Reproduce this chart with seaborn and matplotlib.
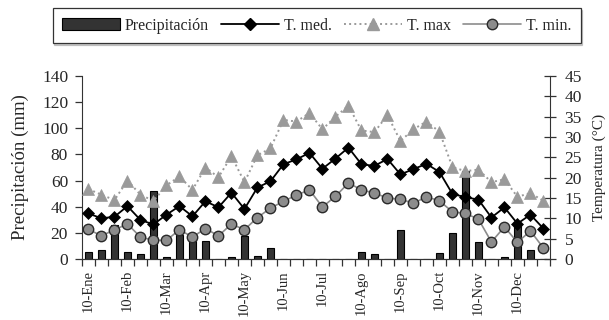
import numpy as np
import pandas as pd
import matplotlib
matplotlib.use("Agg")
import matplotlib.pyplot as plt
from matplotlib.lines import Line2D
from matplotlib.patches import Patch
import seaborn as sns

# Dekadal (10-day) climate series for one year
months = ["Ene", "Feb", "Mar", "Apr", "May", "Jun",
          "Jul", "Ago", "Sep", "Oct", "Nov", "Dec"]
dekads = [f"{d}-{m}" for m in months for d in (10, 20, 30)]
tick_labels = [f"10-{m}" for m in months]

precip = [5, 7, 26, 5, 4, 52, 1.5, 18.5, 14, 14, 0, 1.5,
          17.5, 2.5, 8.5, 0, 0, 0, 0, 0, 0, 5.5, 3.5, 0,
          22, 0, 0, 4.5, 20, 67, 13, 0, 1.5, 27.5, 7, 0]

t_med = [11.2, 10.0, 10.4, 13.0, 9.6, 8.5, 10.9, 13.0, 10.5, 14.2, 12.7, 16.3,
         12.3, 17.6, 19.1, 23.3, 24.5, 26.1, 22.2, 24.7, 27.4, 23.3, 22.9, 24.6,
         20.8, 22.1, 23.4, 21.4, 16.0, 15.2, 14.6, 10.2, 12.7, 8.7, 10.9, 7.5]

t_max = [17.2, 15.8, 14.5, 19.3, 15.8, 14.3, 18.1, 20.3, 17.0, 22.5, 20.1, 25.3,
         18.9, 25.5, 27.2, 34.2, 33.8, 35.9, 31.9, 35.0, 37.7, 31.6, 31.2, 35.4,
         29.0, 31.9, 33.8, 31.3, 22.6, 21.6, 22.0, 18.9, 19.6, 15.3, 16.2, 14.3]

t_min = [7.3, 5.7, 7.2, 8.6, 5.4, 4.6, 4.6, 7.2, 5.4, 7.5, 5.7, 8.6,
         7.2, 10.2, 12.5, 14.2, 15.7, 17.0, 12.8, 15.4, 18.7, 17.0, 16.2, 15.0,
         14.7, 13.7, 15.3, 14.3, 11.6, 11.2, 9.8, 4.2, 7.9, 4.1, 6.9, 2.7]

df = pd.DataFrame({"dekad": dekads, "precip": precip,
                   "t_med": t_med, "t_max": t_max, "t_min": t_min})

sns.set_style("ticks")
plt.rcParams["font.family"] = ["Liberation Serif", "DejaVu Serif"]
plt.rcParams["axes.edgecolor"] = "#333333"

fig = plt.figure(figsize=(6.09, 3.20), dpi=100)
ax = fig.add_axes([0.1346, 0.1906, 0.903 - 0.1346, 0.7625 - 0.1906])
ax2 = ax.twinx()

bar_color = "#333333"
sns.barplot(data=df, x="dekad", y="precip", order=dekads, ax=ax,
            color=bar_color, saturation=1, width=0.5,
            edgecolor="black", linewidth=0.8, errorbar=None)

# Temperature series on the secondary axis
sns.pointplot(data=df, x="dekad", y="t_min", order=dekads, ax=ax2,
              color="#8c8c8c", markers="o", linestyles="-", errorbar=None,
              markersize=7.5, linewidth=1.2,
              markeredgecolor="#2a2a2a", markeredgewidth=1.0)
sns.pointplot(data=df, x="dekad", y="t_max", order=dekads, ax=ax2,
              color="#9a9a9a", markers="^", linestyles=":", errorbar=None,
              markersize=8, linewidth=1.4,
              markeredgecolor="#9a9a9a", markeredgewidth=0.5)
sns.pointplot(data=df, x="dekad", y="t_med", order=dekads, ax=ax2,
              color="black", markers="D", linestyles="-", errorbar=None,
              markersize=6, linewidth=1.3,
              markeredgecolor="black", markeredgewidth=0.5)

# Axes limits and ticks
ax.set_xlim(-0.5, len(dekads) - 0.5)
ax.set_ylim(0, 140)
ax.set_yticks(np.arange(0, 141, 20))
ax2.set_ylim(0, 45)
ax2.set_yticks(np.arange(0, 46, 5))

ax.set_xticks(np.arange(0, len(dekads), 3))
ax.set_xticklabels(tick_labels, rotation=90, fontsize=10.5)
ax.set_xticks(np.arange(-0.5, len(dekads), 1), minor=True)
ax.tick_params(axis="x", which="major", length=0, pad=8)
ax.tick_params(axis="x", which="minor", length=5, width=0.9,
               direction="out", color="#333333")
ax.tick_params(axis="y", which="major", length=5, width=0.9,
               direction="out", labelsize=12.5, pad=5, color="#333333")
ax2.tick_params(axis="y", which="major", length=9, width=0.9,
                direction="inout", labelsize=12.5, pad=6, color="#333333")

ax.set_xlabel("")
ax2.set_xlabel("")
ax.set_ylabel("Precipitación (mm)", fontsize=13.5, labelpad=9)
ax2.set_ylabel("Temperatura (°C)", fontsize=11, labelpad=8)

for a in (ax, ax2):
    a.spines["top"].set_visible(False)
    a.grid(False)
ax2.spines["left"].set_visible(False)
ax.spines["right"].set_visible(False)

# Legend across the top
handles = [
    Patch(facecolor=bar_color, edgecolor="black", linewidth=0.8),
    Line2D([], [], color="black", marker="D", markersize=6, linewidth=1.3),
    Line2D([], [], color="#9a9a9a", marker="^", markersize=8,
           linestyle=":", linewidth=1.4),
    Line2D([], [], color="#8c8c8c", marker="o", markersize=7.5,
           markeredgecolor="#2a2a2a", linewidth=1.2),
]
labels = ["Precipitación", "T. med.", "T. max", "T. min."]
leg = fig.legend(handles, labels, loc="upper center",
                 bbox_to_anchor=(0.52, 0.975), ncol=4, frameon=True,
                 fancybox=False, fontsize=11.5, handlelength=3.6,
                 handleheight=0.7, handletextpad=0.3, columnspacing=0.8,
                 borderpad=0.6, borderaxespad=0,
                 shadow={"ox": 1.2, "oy": -1.2, "color": "0.6"})
leg.get_frame().set_edgecolor("#333333")
leg.get_frame().set_linewidth(0.9)

fig.savefig("out.png", dpi=100)
